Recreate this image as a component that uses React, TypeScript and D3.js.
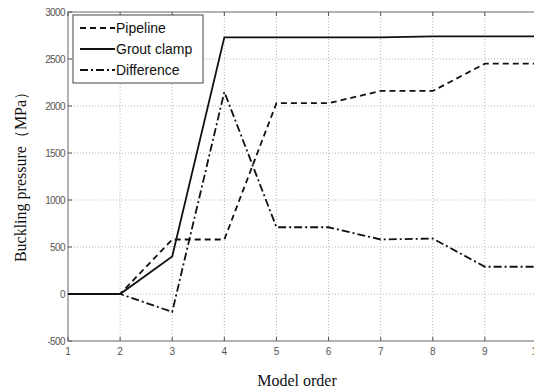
import React, { useEffect, useRef } from 'react';
import * as d3 from 'd3';

// Model order 1..10
const orders = [1, 2, 3, 4, 5, 6, 7, 8, 9, 10];
const pipeline = [0, 0, 580, 580, 2030, 2030, 2160, 2160, 2450, 2450];
const groutClamp = [0, 0, 400, 2730, 2730, 2730, 2730, 2740, 2740, 2740];
const difference = [0, 0, -190, 2150, 710, 710, 580, 590, 290, 290];
const yTicks = [-500, 0, 500, 1000, 1500, 2000, 2500, 3000];

const series = [
  { name: 'Pipeline', values: pipeline, dash: '6,4' },
  { name: 'Grout clamp', values: groutClamp, dash: '' },
  { name: 'Difference', values: difference, dash: '8,3,2,3' },
];

const W = 534;
const H = 392;

export default function App() {
  const svgRef = useRef<SVGSVGElement>(null);

  useEffect(() => {
    if (!svgRef.current) return;
    const svg = d3.select(svgRef.current);
    svg.selectAll('*').remove();

    const left = 68;
    const right = 537;
    const top = 12;
    const bottom = 341;

    const x = d3.scaleLinear().domain([1, 10]).range([left, right]);
    const y = d3.scaleLinear().domain([-500, 3000]).range([bottom, top]);

    svg.append('rect').attr('width', W).attr('height', H).attr('fill', '#fff');

    // Grid
    const grid = svg.append('g').attr('stroke', '#a0a0a0').attr('stroke-width', 0.8).attr('stroke-dasharray', '1,2');
    orders.slice(1).forEach(o => {
      grid.append('line').attr('x1', x(o)).attr('x2', x(o)).attr('y1', top).attr('y2', bottom);
    });
    yTicks.slice(1, -1).forEach(v => {
      grid.append('line').attr('x1', left).attr('x2', right).attr('y1', y(v)).attr('y2', y(v));
    });

    // Frame
    svg.append('rect')
      .attr('x', left).attr('y', top)
      .attr('width', right - left).attr('height', bottom - top)
      .attr('fill', 'none').attr('stroke', '#666').attr('stroke-width', 1);

    // Inward ticks
    const ticks = svg.append('g').attr('stroke', '#555').attr('stroke-width', 1);
    orders.forEach(o => {
      ticks.append('line').attr('x1', x(o)).attr('x2', x(o)).attr('y1', bottom).attr('y2', bottom - 4);
      ticks.append('line').attr('x1', x(o)).attr('x2', x(o)).attr('y1', top).attr('y2', top + 4);
    });
    yTicks.forEach(v => {
      ticks.append('line').attr('x1', left).attr('x2', left + 4).attr('y1', y(v)).attr('y2', y(v));
    });

    // Tick labels
    const tl = svg.append('g')
      .attr('font-family', 'Liberation Sans, Arial, sans-serif')
      .attr('font-size', 10)
      .attr('fill', '#555');
    orders.forEach(o => {
      tl.append('text').attr('x', x(o)).attr('y', bottom + 14).attr('text-anchor', 'middle').text(String(o));
    });
    yTicks.forEach(v => {
      tl.append('text').attr('x', left - 3).attr('y', y(v) + 3.5).attr('text-anchor', 'end')
        .attr('letter-spacing', -0.6).text(String(v));
    });

    // Lines
    const line = d3.line<number>()
      .x((_, i) => x(orders[i]))
      .y(d => y(d));
    series.forEach(s => {
      svg.append('path')
        .datum(s.values)
        .attr('fill', 'none')
        .attr('stroke', '#111')
        .attr('stroke-width', 1.8)
        .attr('stroke-dasharray', s.dash || null)
        .attr('d', line);
    });

    // Legend
    const lg = svg.append('g').attr('transform', 'translate(73,15)');
    lg.append('rect').attr('width', 130).attr('height', 68)
      .attr('fill', '#fff').attr('stroke', '#444').attr('stroke-width', 1);
    series.forEach((s, i) => {
      const ry = 13 + i * 21;
      lg.append('line').attr('x1', 7).attr('x2', 42).attr('y1', ry).attr('y2', ry)
        .attr('stroke', '#111').attr('stroke-width', 1.8)
        .attr('stroke-dasharray', s.dash || null);
      lg.append('text').attr('x', 43).attr('y', ry + 5)
        .attr('font-family', 'Liberation Sans, Arial, sans-serif')
        .attr('font-size', 14).attr('fill', '#111').text(s.name);
    });

    // Axis titles
    svg.append('text')
      .attr('x', 297).attr('y', 386)
      .attr('text-anchor', 'middle')
      .attr('font-family', 'Liberation Serif, Times New Roman, serif')
      .attr('font-size', 16).attr('fill', '#111')
      .text('Model order');
    svg.append('text')
      .attr('transform', 'translate(26,173) rotate(-90)')
      .attr('text-anchor', 'middle')
      .attr('font-family', 'Liberation Serif, Times New Roman, serif')
      .attr('font-size', 16).attr('fill', '#111')
      .text('Buckling pressure（MPa）');
  }, []);

  return (
    <svg ref={svgRef} width={W} height={H}
      style={{ position: 'absolute', left: 0, top: 0, display: 'block' }} />
  );
}
